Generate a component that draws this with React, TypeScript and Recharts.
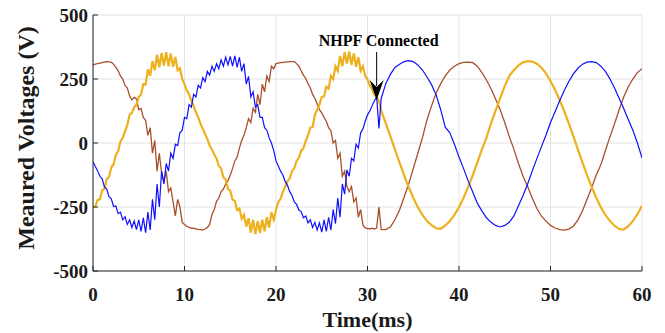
import React from 'react';
import { LineChart, Line, XAxis, YAxis, CartesianGrid, ReferenceDot } from 'recharts';

// sample instants (ms): 0.25 ms steps before the filter is switched in, 0.5 ms after
const timeMs = [
  0, 0.25, 0.5, 0.75, 1, 1.25, 1.5, 1.75, 2, 2.25, 2.5, 2.75,
  3, 3.25, 3.5, 3.75, 4, 4.25, 4.5, 4.75, 5, 5.25, 5.5, 5.75,
  6, 6.25, 6.5, 6.75, 7, 7.25, 7.5, 7.75, 8, 8.25, 8.5, 8.75,
  9, 9.25, 9.5, 9.75, 10, 10.25, 10.5, 10.75, 11, 11.25, 11.5, 11.75,
  12, 12.25, 12.5, 12.75, 13, 13.25, 13.5, 13.75, 14, 14.25, 14.5, 14.75,
  15, 15.25, 15.5, 15.75, 16, 16.25, 16.5, 16.75, 17, 17.25, 17.5, 17.75,
  18, 18.25, 18.5, 18.75, 19, 19.25, 19.5, 19.75, 20, 20.25, 20.5, 20.75,
  21, 21.25, 21.5, 21.75, 22, 22.25, 22.5, 22.75, 23, 23.25, 23.5, 23.75,
  24, 24.25, 24.5, 24.75, 25, 25.25, 25.5, 25.75, 26, 26.25, 26.5, 26.75,
  27, 27.25, 27.5, 27.75, 28, 28.25, 28.5, 28.75, 29, 29.25, 29.5, 29.75,
  30, 30.25, 30.5, 30.75, 31, 31.25,
  31.5, 32, 32.5, 33, 33.5, 34, 34.5, 35, 35.5, 36,
  36.5, 37, 37.5, 38, 38.5, 39, 39.5, 40, 40.5, 41,
  41.5, 42, 42.5, 43, 43.5, 44, 44.5, 45, 45.5, 46,
  46.5, 47, 47.5, 48, 48.5, 49, 49.5, 50, 50.5, 51,
  51.5, 52, 52.5, 53, 53.5, 54, 54.5, 55, 55.5, 56,
  56.5, 57, 57.5, 58, 58.5, 59, 59.5, 60,
];

// phase a (yellow)
const phaseA = [
  -252, -248, -222, -220, -186, -178, -142, -132, -96, -83, -46, -32,
  6, 20, 45, 70, 110, 118, 140, 150, 180, 190, 230, 228,
  288, 262, 320, 284, 345, 296, 352, 302, 355, 300, 350, 298,
  336, 284, 292, 250, 230, 205, 190, 165, 145, 120, 100, 75,
  55, 35, 15, -10, -25, -45, -60, -90, -100, -134, -142, -180,
  -186, -222, -226, -262, -256, -296, -280, -326, -294, -350, -300, -356,
  -305, -352, -300, -345, -290, -330, -270, -300, -262, -230, -218, -190,
  -172, -150, -138, -110, -98, -70, -58, -30, -20, 8, 30, 60,
  62, 110, 130, 150, 180, 182, 220, 212, 262, 250, 300, 282,
  340, 300, 355, 310, 358, 305, 350, 298, 335, 282, 300, 262,
  248, 225, 210, 190, 178, 165,
  126, 77, 26, -26, -77, -126, -172, -214, -251, -281,
  -305, -321, -333, -335, -322, -305, -281, -251, -214, -172,
  -126, -77, -26, 20, 77, 126, 175, 222, 262, 285,
  303, 315, 320, 318, 310, 295, 272, 242, 208, 168,
  124, 77, 26, -26, -77, -126, -172, -214, -251, -281,
  -305, -323, -336, -338, -325, -305, -278, -245,
];

// phase b (blue)
const phaseB = [
  -73, -92, -108, -130, -140, -172, -180, -210, -218, -248, -246, -276,
  -270, -300, -288, -318, -300, -330, -305, -338, -300, -345, -292, -350,
  -270, -340, -220, -300, -160, -250, -110, -160, -80, -110, -40, -60,
  -5, -10, 40, 50, 100, 95, 150, 140, 190, 180, 225, 215,
  255, 240, 280, 265, 300, 280, 310, 290, 325, 300, 335, 305,
  338, 300, 340, 295, 335, 280, 310, 230, 260, 180, 200, 140,
  150, 100, 100, 60, 50, 20, 0, -30, -70, -90, -110, -125,
  -150, -165, -190, -205, -230, -240, -262, -268, -292, -285, -312, -300,
  -330, -310, -340, -312, -348, -300, -345, -290, -340, -260, -315, -215,
  -290, -160, -200, -105, -130, -60, -70, -5, -20, 40, 55, 85,
  110, 125, 145, 165, 180, 57,
  175, 232, 268, 295, 308, 318, 322, 318, 305, 285,
  258, 228, 188, 130, 62, 40, -5, -55, -100, -148,
  -191, -235, -265, -292, -310, -322, -328, -322, -310, -285,
  -245, -205, -160, -110, -62, -15, 30, 80, 122, 165,
  205, 240, 270, 292, 308, 316, 318, 314, 300, 280,
  250, 215, 175, 135, 92, 50, 0, -58,
];

// phase c (brown)
const phaseC = [
  305, 308, 310, 312, 314, 316, 318, 317, 315, 308, 295, 282,
  262, 250, 225, 215, 185, 168, 178, 172, 130, 135, 100, 88,
  30, 60, -40, 10, -110, -40, -120, -150, -110, -190, -175, -230,
  -285, -220, -250, -310, -318, -326, -330, -332, -333, -335, -337, -338,
  -340, -336, -330, -318, -280, -260, -228, -215, -190, -180, -160, -148,
  -125, -100, -70, -55, -20, 10, 30, 60, 95, 80, 135, 120,
  190, 150, 230, 200, 262, 240, 300, 290, 310, 312, 314, 315,
  316, 317, 318, 318, 318, 310, 300, 282, 265, 252, 232, 215,
  190, 175, 152, 130, 118, 100, 85, 60, 48, 0, 10, -60,
  -40, -130, -110, -170, -190, -170, -230, -215, -290, -260, -320, -332,
  -334, -335, -333, -336, -332, -250,
  -338, -338, -328, -300, -262, -212, -160, -100, -40, 20,
  90, 145, 195, 232, 262, 285, 300, 310, 315, 316,
  314, 300, 275, 246, 212, 172, 130, 80, 25, -25,
  -80, -130, -170, -215, -255, -285, -305, -322, -332, -338,
  -340, -336, -325, -300, -265, -220, -175, -125, -85, -30,
  25, 75, 130, 180, 220, 250, 275, 290,
];

const timeTicks = [0, 10, 20, 30, 40, 50, 60];
const voltTicks = [-500, -250, 0, 250, 500];

const rows = timeMs.map((t, i) => ({ t, va: phaseA[i], vb: phaseB[i], vc: phaseC[i] }));

const serif = '"Liberation Serif", "Times New Roman", serif';
const tickStyle = { fontFamily: serif, fontWeight: 700, fontSize: 19, fill: '#1a1a1a' };
const axisColor = '#262626';

const NhpfArrow = ({ cx, cy }: { cx?: number; cy?: number }) => {
  if (cx == null || cy == null) return null;
  return (
    <g>
      <line x1={cx} y1={cy - 48} x2={cx} y2={cy - 14} stroke="#000" strokeWidth={1} />
      <polygon
        points={`${cx},${cy} ${cx - 7},${cy - 20} ${cx},${cy - 13} ${cx + 7},${cy - 20}`}
        fill="#000"
      />
      <text
        x={cx + 2}
        y={cy - 54}
        textAnchor="middle"
        fontFamily={serif}
        fontWeight={700}
        fontSize={16}
        fill="#000"
      >
        NHPF Connected
      </text>
    </g>
  );
};

const App: React.FC = () => {
  return (
    <div style={{ position: 'absolute', left: 0, top: 0, background: '#fff' }}>
      <LineChart width={665} height={333} data={rows} margin={{ top: 15, right: 23, bottom: 0, left: 0 }}>
        <CartesianGrid stroke="#e3e3e3" strokeWidth={1} />
        <XAxis
          dataKey="t"
          type="number"
          domain={[0, 60]}
          ticks={timeTicks}
          allowDataOverflow
          height={62}
          stroke={axisColor}
          tickSize={-5}
          tickMargin={22}
          tick={tickStyle}
          label={{
            content: ({ viewBox }: any) => (
              <text
                x={viewBox.x + viewBox.width / 2}
                y={viewBox.y + 56}
                textAnchor="middle"
                fontFamily={serif}
                fontWeight={700}
                fontSize={22}
                fill="#1a1a1a"
              >
                Time(ms)
              </text>
            ),
          }}
        />
        <XAxis
          xAxisId="top"
          orientation="top"
          dataKey="t"
          type="number"
          domain={[0, 60]}
          ticks={timeTicks}
          allowDataOverflow
          height={0}
          stroke={axisColor}
          tickSize={-5}
          tickFormatter={() => ''}
        />
        <YAxis
          type="number"
          domain={[-500, 500]}
          ticks={voltTicks}
          allowDataOverflow
          width={93}
          stroke={axisColor}
          tickSize={-5}
          tickMargin={10}
          tick={tickStyle}
          label={{
            content: ({ viewBox }: any) => {
              const x = viewBox.x + 34;
              const y = viewBox.y + viewBox.height / 2 - 5;
              return (
                <text
                  x={x}
                  y={y}
                  transform={`rotate(-90 ${x} ${y})`}
                  textAnchor="middle"
                  fontFamily={serif}
                  fontWeight={700}
                  fontSize={24}
                  fill="#1a1a1a"
                >
                  Meaured Voltages (V)
                </text>
              );
            },
          }}
        />
        <YAxis
          yAxisId="right"
          orientation="right"
          type="number"
          domain={[-500, 500]}
          ticks={voltTicks}
          allowDataOverflow
          width={0}
          stroke={axisColor}
          tickSize={-5}
          tickFormatter={() => ''}
        />
        <Line type="linear" dataKey="vc" stroke="#a8502a" strokeWidth={1.3} dot={false} isAnimationActive={false} />
        <Line type="linear" dataKey="va" stroke="#edb120" strokeWidth={2.2} dot={false} isAnimationActive={false} />
        <Line type="linear" dataKey="vb" stroke="#1010ff" strokeWidth={1.2} dot={false} isAnimationActive={false} />
        <ReferenceDot x={31} y={168} r={0} shape={(p: any) => <NhpfArrow cx={p.cx} cy={p.cy} />} />
      </LineChart>
    </div>
  );
};

export default App;
